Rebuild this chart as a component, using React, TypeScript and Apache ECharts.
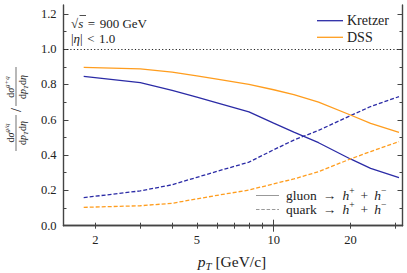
import React, { useEffect, useRef } from "react";
import * as echarts from "echarts";

const pT = [1.8, 3, 4, 5, 6, 8, 10, 12, 15, 20, 24, 31];
const kretzerGluon = [0.846, 0.81, 0.766, 0.728, 0.696, 0.645, 0.581, 0.53, 0.47, 0.378, 0.325, 0.272];
const kretzerQuark = [0.159, 0.197, 0.232, 0.274, 0.308, 0.36, 0.43, 0.485, 0.54, 0.623, 0.675, 0.731];
const dssGluon = [0.897, 0.888, 0.87, 0.848, 0.83, 0.8, 0.77, 0.742, 0.7, 0.627, 0.58, 0.529];
const dssQuark = [0.104, 0.113, 0.127, 0.152, 0.172, 0.202, 0.237, 0.265, 0.306, 0.378, 0.42, 0.476];

const xLabels = [2, 5, 10, 20];
const xMinorTicks = [2, 3, 4, 5, 6, 7, 8, 9, 20, 30];
const xMajorTicks = [10];
const yLabels = [0, 0.2, 0.4, 0.6, 0.8, 1.0, 1.2];
const yMinorTicks = [0.1, 0.3, 0.5, 0.7, 0.9, 1.1];

const BLUE = "#2b2ba6";
const ORANGE = "#ff9d1e";
const FONT = "'Liberation Serif', 'DejaVu Serif', serif";
const AX = "#444";
const TXT = "#222";

const zip = (xs: number[], ys: number[]) => xs.map((x, i) => [x, ys[i]]);

const baseRich = (s: number, opPad = 0.3) => {
  const L = s * 1.4;
  const mk = (extra: any) => ({ fontFamily: FONT, fill: TXT, color: TXT, ...extra });
  return {
    r: mk({ fontSize: s, lineHeight: L, verticalAlign: "middle" }),
    i: mk({ fontSize: s, lineHeight: L, verticalAlign: "middle", fontStyle: "italic" }),
    op: mk({ fontSize: s, lineHeight: L, verticalAlign: "middle", padding: [0, s * opPad, 0, s * opPad] }),
    sup: mk({ fontSize: s * 0.7, lineHeight: s * 0.55, verticalAlign: "top", fontStyle: "italic" }),
    supr: mk({ fontSize: s * 0.7, lineHeight: s * 0.55, verticalAlign: "top" }),
    sub: mk({ fontSize: s * 0.7, lineHeight: s * 0.9, verticalAlign: "bottom", fontStyle: "italic" }),
  };
};

export default function App() {
  const ref = useRef<HTMLDivElement>(null);
  useEffect(() => {
    if (!ref.current) return;
    const chart = echarts.init(ref.current, null, { renderer: "svg" });
    const xCommon = {
      type: "log",
      logBase: 10,
      min: 1.5,
      max: 32,
      splitLine: { show: false },
      minorTick: { show: false },
    };
    const yCommon = {
      type: "value",
      min: 0,
      max: 1.25,
      splitLine: { show: false },
      minorTick: { show: false },
    };
    const axLine = { show: true, lineStyle: { color: AX, width: 1.4 } };
    const tick = (len: number, vals: number[]) => ({
      show: true,
      inside: true,
      length: len,
      customValues: vals,
      lineStyle: { color: AX, width: 1 },
    });
    const txt = (x: number, y: number, text: string, size: number, align = "left", opPad = 0.3) => ({
      type: "text",
      x,
      y,
      style: {
        text,
        rich: baseRich(size, opPad),
        align,
        verticalAlign: "middle",
        fontFamily: FONT,
        fontSize: size,
        fill: TXT,
      },
    });

    const option: any = {
      animation: false,
      grid: { left: 63.5, right: 4.5, top: 5, bottom: 47.3, containLabel: false },
      xAxis: [
        {
          ...xCommon,
          position: "bottom",
          axisLine: axLine,
          axisTick: tick(3, xMinorTicks),
          axisLabel: {
            customValues: xLabels,
            formatter: (v: number) => String(Math.round(v)),
            margin: 8,
            fontFamily: FONT,
            fontSize: 12.5,
            color: TXT,
          },
        },
        { ...xCommon, position: "bottom", axisLine: { show: false }, axisTick: tick(6, xMajorTicks), axisLabel: { show: false } },
        { ...xCommon, position: "top", axisLine: axLine, axisTick: tick(3, xMinorTicks), axisLabel: { show: false } },
        { ...xCommon, position: "top", axisLine: { show: false }, axisTick: tick(6, xMajorTicks), axisLabel: { show: false } },
      ],
      yAxis: [
        {
          ...yCommon,
          position: "left",
          axisLine: axLine,
          axisTick: tick(5, yLabels),
          axisLabel: {
            customValues: yLabels,
            formatter: (v: number) => v.toFixed(1),
            margin: 7,
            fontFamily: FONT,
            fontSize: 12.5,
            color: TXT,
          },
        },
        { ...yCommon, position: "left", axisLine: { show: false }, axisTick: tick(3, yMinorTicks), axisLabel: { show: false } },
        { ...yCommon, position: "right", axisLine: axLine, axisTick: tick(5, yLabels), axisLabel: { show: false } },
        { ...yCommon, position: "right", axisLine: { show: false }, axisTick: tick(3, yMinorTicks), axisLabel: { show: false } },
      ],
      series: [
        {
          name: "Kretzer gluon",
          type: "line",
          data: zip(pT, kretzerGluon),
          symbol: "none",
          lineStyle: { color: BLUE, width: 1.3 },
          markLine: {
            silent: true,
            symbol: ["none", "none"],
            label: { show: false },
            lineStyle: { color: TXT, type: [1.2, 2.2], width: 1.2 },
            data: [{ yAxis: 1 }],
          },
        },
        {
          name: "Kretzer quark",
          type: "line",
          data: zip(pT, kretzerQuark),
          symbol: "none",
          lineStyle: { color: BLUE, width: 1.3, type: [4, 2] },
        },
        {
          name: "DSS gluon",
          type: "line",
          data: zip(pT, dssGluon),
          symbol: "none",
          lineStyle: { color: ORANGE, width: 1.3 },
        },
        {
          name: "DSS quark",
          type: "line",
          data: zip(pT, dssQuark),
          symbol: "none",
          lineStyle: { color: ORANGE, width: 1.3, type: [4, 2] },
        },
      ],
      graphic: [
        {
          type: "group",
          x: 16,
          y: 110,
          rotation: Math.PI / 2,
          children: [
            txt(-23, -5.5, "{r|d}{i|σ}{sup|g/q}", 10, "center"),
            { type: "line", shape: { x1: -41, y1: 0, x2: -5, y2: 0 }, style: { stroke: "#333", lineWidth: 0.7 } },
            txt(-23, 6, "{r|d}{i|p}{sub|T}{r|d}{i|η}", 10, "center"),
            {
              type: "text",
              x: 0,
              y: 0,
              style: { text: "/", fontFamily: FONT, fontSize: 14, fill: TXT, align: "center", verticalAlign: "middle" },
            },
            txt(23, -5.5, "{r|d}{i|σ}{sup|g+q}", 10, "center"),
            { type: "line", shape: { x1: 4, y1: 0, x2: 43, y2: 0 }, style: { stroke: "#333", lineWidth: 0.7 } },
            txt(23, 6, "{r|d}{i|p}{sub|T}{r|d}{i|η}", 10, "center"),
          ],
        },
        txt(232, 261, "{i|p}{sub|T}{r| [GeV/c]}", 15.5, "center"),
        txt(71, 23.5, "{r|√}{i|s}{op|=}{r|900 GeV}", 13, "left", 0.35),
        { type: "line", shape: { x1: 79.5, y1: 15.5, x2: 86, y2: 15.5 }, style: { stroke: TXT, lineWidth: 0.8 } },
        txt(71, 38, "{r||}{i|η}{r||}{op|<}{r|1.0}", 13, "left", 0.35),
        { type: "line", shape: { x1: 317, y1: 20.7, x2: 343, y2: 20.7 }, style: { stroke: BLUE, lineWidth: 1.3 } },
        txt(347, 20.7, "{r|Kretzer}", 14),
        { type: "line", shape: { x1: 317, y1: 37.3, x2: 343, y2: 37.3 }, style: { stroke: ORANGE, lineWidth: 1.3 } },
        txt(347, 37.3, "{r|DSS}", 14),
        { type: "line", shape: { x1: 256, y1: 195.5, x2: 279, y2: 195.5 }, style: { stroke: "#999", lineWidth: 1 } },
        txt(286, 195.5, "{r|gluon}{op|→}{i|h}{supr|+}{op|+}{i|h}{supr|−}", 13.5, "left", 0.45),
        {
          type: "line",
          shape: { x1: 256, y1: 209.5, x2: 279, y2: 209.5 },
          style: { stroke: "#999", lineWidth: 1, lineDash: [3.5, 1.8] },
        },
        txt(286, 209.5, "{r|quark}{op|→}{i|h}{supr|+}{op|+}{i|h}{supr|−}", 13.5, "left", 0.45),
      ],
    };
    chart.setOption(option);
    return () => chart.dispose();
  }, []);
  return <div ref={ref} style={{ position: "absolute", left: 0, top: 0, width: 407, height: 273 }} />;
}
